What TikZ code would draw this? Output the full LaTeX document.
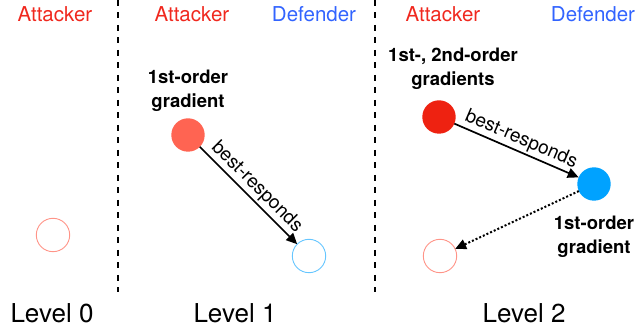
\documentclass[tikz,border=0pt]{standalone}
\usepackage{fontspec}
\setmainfont{TeX Gyre Heros}
\usetikzlibrary{arrows.meta}

\definecolor{attred}{RGB}{240,40,30}
\definecolor{defblue}{RGB}{50,100,255}
\definecolor{attlight}{RGB}{255,100,82}
\definecolor{attdark}{RGB}{238,34,17}
\definecolor{deffill}{RGB}{0,162,255}
\definecolor{attring}{RGB}{255,148,136}
\definecolor{defring}{RGB}{102,198,255}

\begin{document}
\begin{tikzpicture}[x=1pt,y=-1pt,
  role/.style={font=\fontsize{20.5}{24}\selectfont, anchor=base, inner sep=0pt},
  levelname/.style={font=\fontsize{26}{30}\selectfont, anchor=base, inner sep=0pt},
  note/.style={font=\fontsize{18.5}{24}\selectfont\bfseries, align=center, inner sep=0pt},
  agent/.style={circle, minimum size=33.4pt, inner sep=0pt, outer sep=0pt},
  ring/.style={agent, draw, line width=0.9pt},
  divider/.style={line width=1.2pt, dash pattern=on 6pt off 6.5pt},
  tip/.style={-{Triangle[length=11pt,width=10pt]}},
  respond/.style={line width=1.7pt, tip},
  echo/.style={line width=2pt, dash pattern=on 2pt off 2pt, tip},
  arrowlabel/.style={font=\fontsize{19}{22}\selectfont, sloped, above, inner sep=2pt}]

\useasboundingbox (0,0) rectangle (638,331);

% column dividers
\coordinate (div1top) at (118,0);
\coordinate (div1bot) at (118,292);
\coordinate (div2top) at (375,0);
\coordinate (div2bot) at (375,292);
\draw[divider] (div1top) -- (div1bot);
\draw[divider] (div2top) -- (div2bot);

% role headings
\node[role, text=attred] (att0) at (55,22) {Attacker};
\node[role, text=attred] (att1) at (192,22) {Attacker};
\node[role, text=defblue] (def1) at (314,22) {Defender};
\node[role, text=attred] (att2) at (443,22) {Attacker};
\node[role, text=defblue] (def2) at (593,22) {Defender};

% level 0
\node[ring, draw=attring] (a0) at (53,235) {};

% level 1
\node[agent, fill=attlight] (a1) at (188,135) {};
\node[ring, draw=defring] (d1) at (309,256) {};
\node[note] (n1) at (188,91) {1st-order\\gradient};
\draw[respond] (a1) -- node[arrowlabel] (r1) {best-responds} (d1);

% level 2
\node[agent, fill=attdark] (a2) at (439,117) {};
\node[agent, fill=deffill] (d2) at (594,184) {};
\node[ring, draw=attring] (a2b) at (440,256) {};
\node[note] (n2) at (453,69) {1st-, 2nd-order\\gradients};
\node[note] (n3) at (594,237) {1st-order\\gradient};
\draw[respond] (a2) -- node[arrowlabel] (r2) {best-responds} (d2);
\draw[echo] (d2) -- (a2b);

% level captions
\node[levelname] (l0) at (52,323) {Level 0};
\node[levelname] (l1) at (235,323) {Level 1};
\node[levelname] (l2) at (524,323) {Level 2};

\end{tikzpicture}
\end{document}
